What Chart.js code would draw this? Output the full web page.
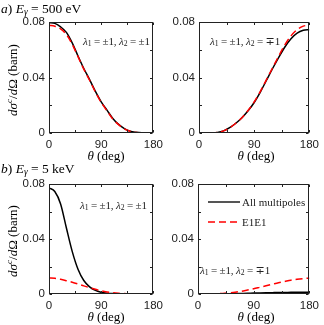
<!DOCTYPE html>
<html>
<head>
<meta charset="utf-8">
<script src="https://cdn.jsdelivr.net/npm/chart.js@4.4.1/dist/chart.umd.min.js"></script>
<style>
  body { margin: 0; background: #fff; }
  #wrap { position: relative; width: 324px; height: 325px; overflow: hidden; }
  canvas { position: absolute; }
  .t { position: absolute; white-space: nowrap; font-family: "Liberation Serif", "DejaVu Serif", serif; color: #000; line-height: 1; }
  .t sub { font-size: 70%; vertical-align: -0.25em; line-height: 0; }
  .t sup { font-size: 70%; vertical-align: 0.45em; line-height: 0; }
  .ylab { transform: translate(-50%, -50%) rotate(-90deg); font-size: 13px; }
  .xlab { transform: translate(-50%, -50%); font-size: 13px; }
  .ann { font-size: 11px; transform: translateY(-50%); color: #222; letter-spacing: -0.15px; }
  .leg { font-size: 11px; transform: translateY(-50%); color: #222; }
</style>
</head>
<body>
<div id="wrap">
  <canvas id="c1" width="168" height="162" style="left:0;top:0"></canvas>
  <canvas id="c2" width="156" height="162" style="left:168px;top:0"></canvas>
  <canvas id="c3" width="168" height="163" style="left:0;top:162px"></canvas>
  <canvas id="c4" width="156" height="163" style="left:168px;top:162px"></canvas>

  <div class="t" style="left:1px;top:2px;font-size:13.5px"><i>a</i>) <i>E</i><sub><i>γ</i></sub> = 500 eV</div>
  <div class="t" style="left:1px;top:162px;font-size:13.5px"><i>b</i>) <i>E</i><sub><i>γ</i></sub> = 5 keV</div>

  <div class="t ylab" style="left:12px;top:80px"><i>dσ</i><sup><i>c</i></sup>/<i>d</i>Ω (barn)</div>
  <div class="t ylab" style="left:12px;top:241px"><i>dσ</i><sup><i>c</i></sup>/<i>d</i>Ω (barn)</div>

  <div class="t xlab" style="left:106px;top:155px"><i>θ</i> (deg)</div>
  <div class="t xlab" style="left:256px;top:155px"><i>θ</i> (deg)</div>
  <div class="t xlab" style="left:106px;top:316px"><i>θ</i> (deg)</div>
  <div class="t xlab" style="left:256px;top:316px"><i>θ</i> (deg)</div>

  <div class="t ann" style="left:83px;top:41px"><i>λ</i><sub>1</sub> = ±1, <i>λ</i><sub>2</sub> = ±1</div>
  <div class="t ann" style="left:210px;top:41px"><i>λ</i><sub>1</sub> = ±1, <i>λ</i><sub>2</sub> = ∓1</div>
  <div class="t ann" style="left:80px;top:205px"><i>λ</i><sub>1</sub> = ±1, <i>λ</i><sub>2</sub> = ±1</div>
  <div class="t ann" style="left:200px;top:270px"><i>λ</i><sub>1</sub> = ±1, <i>λ</i><sub>2</sub> = ∓1</div>

  <!-- legend -->
  <svg style="position:absolute;left:206px;top:196px" width="36" height="32">
    <line x1="2" y1="6" x2="34" y2="6" stroke="#555" stroke-width="2"/>
    <line x1="2" y1="26" x2="34" y2="26" stroke="#ff0000" stroke-width="1.5" stroke-dasharray="7,4"/>
  </svg>
  <div class="t leg" style="left:242px;top:202px">All multipoles</div>
  <div class="t leg" style="left:242px;top:222px">E1E1</div>
</div>

<script>
// angles along the x-axis (deg)
var theta = [0,10,20,30,40,50,60,70,80,90,100,110,120,130,140,150,160,170,180];
var xTickLabels = ['0', '90', '180'];
var yTickLabels = ['0', '0.04', '0.08'];

// a) 500 eV, lambda1 = lambda2
var aSameAll  = [0.0795,0.0790,0.0765,0.0725,0.0650,0.0555,0.0465,0.0385,0.0300,0.0225,0.0165,0.0105,0.0062,0.0032,0.0013,0.0005,0.0001,0,0];
var aSameE1E1 = [0.0775,0.0770,0.0750,0.0710,0.0640,0.0550,0.0460,0.0380,0.0295,0.0220,0.0160,0.0100,0.0060,0.0030,0.0012,0.0004,0.0001,0,0];
// a) 500 eV, lambda1 = -lambda2
var aOppAll   = [0,0,0.0001,0.0004,0.0015,0.0038,0.0070,0.0110,0.0160,0.0220,0.0295,0.0380,0.0465,0.0545,0.0620,0.0680,0.0720,0.0740,0.0745];
var aOppE1E1  = [0,0,0.0001,0.0004,0.0015,0.0038,0.0070,0.0110,0.0162,0.0224,0.0300,0.0385,0.0470,0.0555,0.0635,0.0700,0.0745,0.0770,0.0778];
// b) 5 keV, lambda1 = lambda2
var bSameAll  = [0.0772,0.0745,0.0655,0.0480,0.0310,0.0180,0.0098,0.0052,0.0026,0.0013,0.0006,0.0003,0.0001,0,0,0,0,0,0];
var bSameE1E1 = [0.0116,0.0114,0.0107,0.0097,0.0086,0.0073,0.0059,0.0046,0.0034,0.0023,0.0015,0.0009,0.0005,0.0003,0.0001,0,0,0,0];
// b) 5 keV, lambda1 = -lambda2
var bOppAll   = [0,0,0,0,0.0001,0.0002,0.0003,0.0004,0.0005,0.0007,0.0008,0.0009,0.0010,0.0011,0.0011,0.0012,0.0012,0.0012,0.0012];
var bOppE1E1  = [0,0,0.0001,0.0002,0.0004,0.0008,0.0013,0.0020,0.0029,0.0038,0.0049,0.0060,0.0071,0.0082,0.0091,0.0100,0.0107,0.0112,0.0115];

function pts(vals) {
  return theta.map(function (t, i) { return { x: t, y: vals[i] }; });
}

// box around the plot with small inward ticks on all four sides
var boxPlugin = {
  id: 'box',
  afterDraw: function (chart) {
    var ctx = chart.ctx, a = chart.chartArea;
    var l = Math.round(a.left) + 0.5, r = Math.round(a.right) - 0.5;
    var t = Math.round(a.top) + 0.5, b = Math.round(a.bottom) - 0.5;
    ctx.save();
    ctx.strokeStyle = '#222';
    ctx.lineWidth = 1;
    ctx.beginPath();
    chart.scales.x.ticks.forEach(function (tk) {
      var px = Math.round(chart.scales.x.getPixelForValue(tk.value)) + 0.5;
      ctx.moveTo(px, b); ctx.lineTo(px, b - 2.5);
      ctx.moveTo(px, t); ctx.lineTo(px, t + 2.5);
    });
    chart.scales.y.ticks.forEach(function (tk) {
      var py = Math.round(chart.scales.y.getPixelForValue(tk.value)) + 0.5;
      ctx.moveTo(l, py); ctx.lineTo(l + 2.5, py);
      ctx.moveTo(r, py); ctx.lineTo(r - 2.5, py);
    });
    ctx.stroke();
    ctx.strokeRect(l, t, r - l, b - t);
    ctx.restore();
  }
};

function makePanel(id, all, e1e1, padLeft, padRight, padTop, plotBottom, canvasH) {
  var ctx = document.getElementById(id);
  return new Chart(ctx, {
    type: 'line',
    data: {
      datasets: [
        {
          data: pts(e1e1),
          label: 'E1E1',
          borderColor: '#ff0000',
          borderWidth: 1.5,
          borderDash: [7, 4],
          pointRadius: 0,
          cubicInterpolationMode: 'monotone',
          fill: false,
          order: 0
        },
        {
          data: pts(all),
          label: 'All multipoles',
          borderColor: '#000000',
          borderWidth: 1.5,
          pointRadius: 0,
          cubicInterpolationMode: 'monotone',
          fill: false,
          order: 1
        }
      ]
    },
    options: {
      responsive: false,
      animation: false,
      devicePixelRatio: 1,
      layout: { padding: { left: 0, right: padRight, top: padTop, bottom: canvasH - plotBottom - 16 } },
      plugins: { legend: { display: false }, tooltip: { enabled: false } },
      scales: {
        x: {
          type: 'linear', min: 0, max: 180,
          grid: { display: false, drawTicks: false },
          border: { display: false },
          afterFit: function (s) { s.height = 16; },
          ticks: {
            stepSize: 45, autoSkip: false, maxRotation: 0, padding: 5,
            color: '#222', font: { family: 'Liberation Sans', size: 11.5 },
            callback: function (v) { return v % 90 === 0 ? xTickLabels[v / 90] : ''; }
          }
        },
        y: {
          min: 0, max: 0.08,
          grid: { display: false, drawTicks: false },
          border: { display: false },
          afterFit: function (s) { s.width = padLeft; },
          ticks: {
            stepSize: 0.02, autoSkip: false, padding: 4,
            color: '#222', font: { family: 'Liberation Sans', size: 11.5 },
            callback: function (v, i) { return i % 2 === 0 ? yTickLabels[i / 2] : ''; }
          }
        }
      }
    },
    plugins: [boxPlugin]
  });
}

makePanel('c1', aSameAll, aSameE1E1, 49, 5, 22, 133, 162);
makePanel('c2', aOppAll, aOppE1E1, 31, 10, 22, 133, 162);
makePanel('c3', bSameAll, bSameE1E1, 49, 5, 22, 132, 163);
makePanel('c4', bOppAll, bOppE1E1, 30, 10, 22, 132, 163);
</script>
</body>
</html>
